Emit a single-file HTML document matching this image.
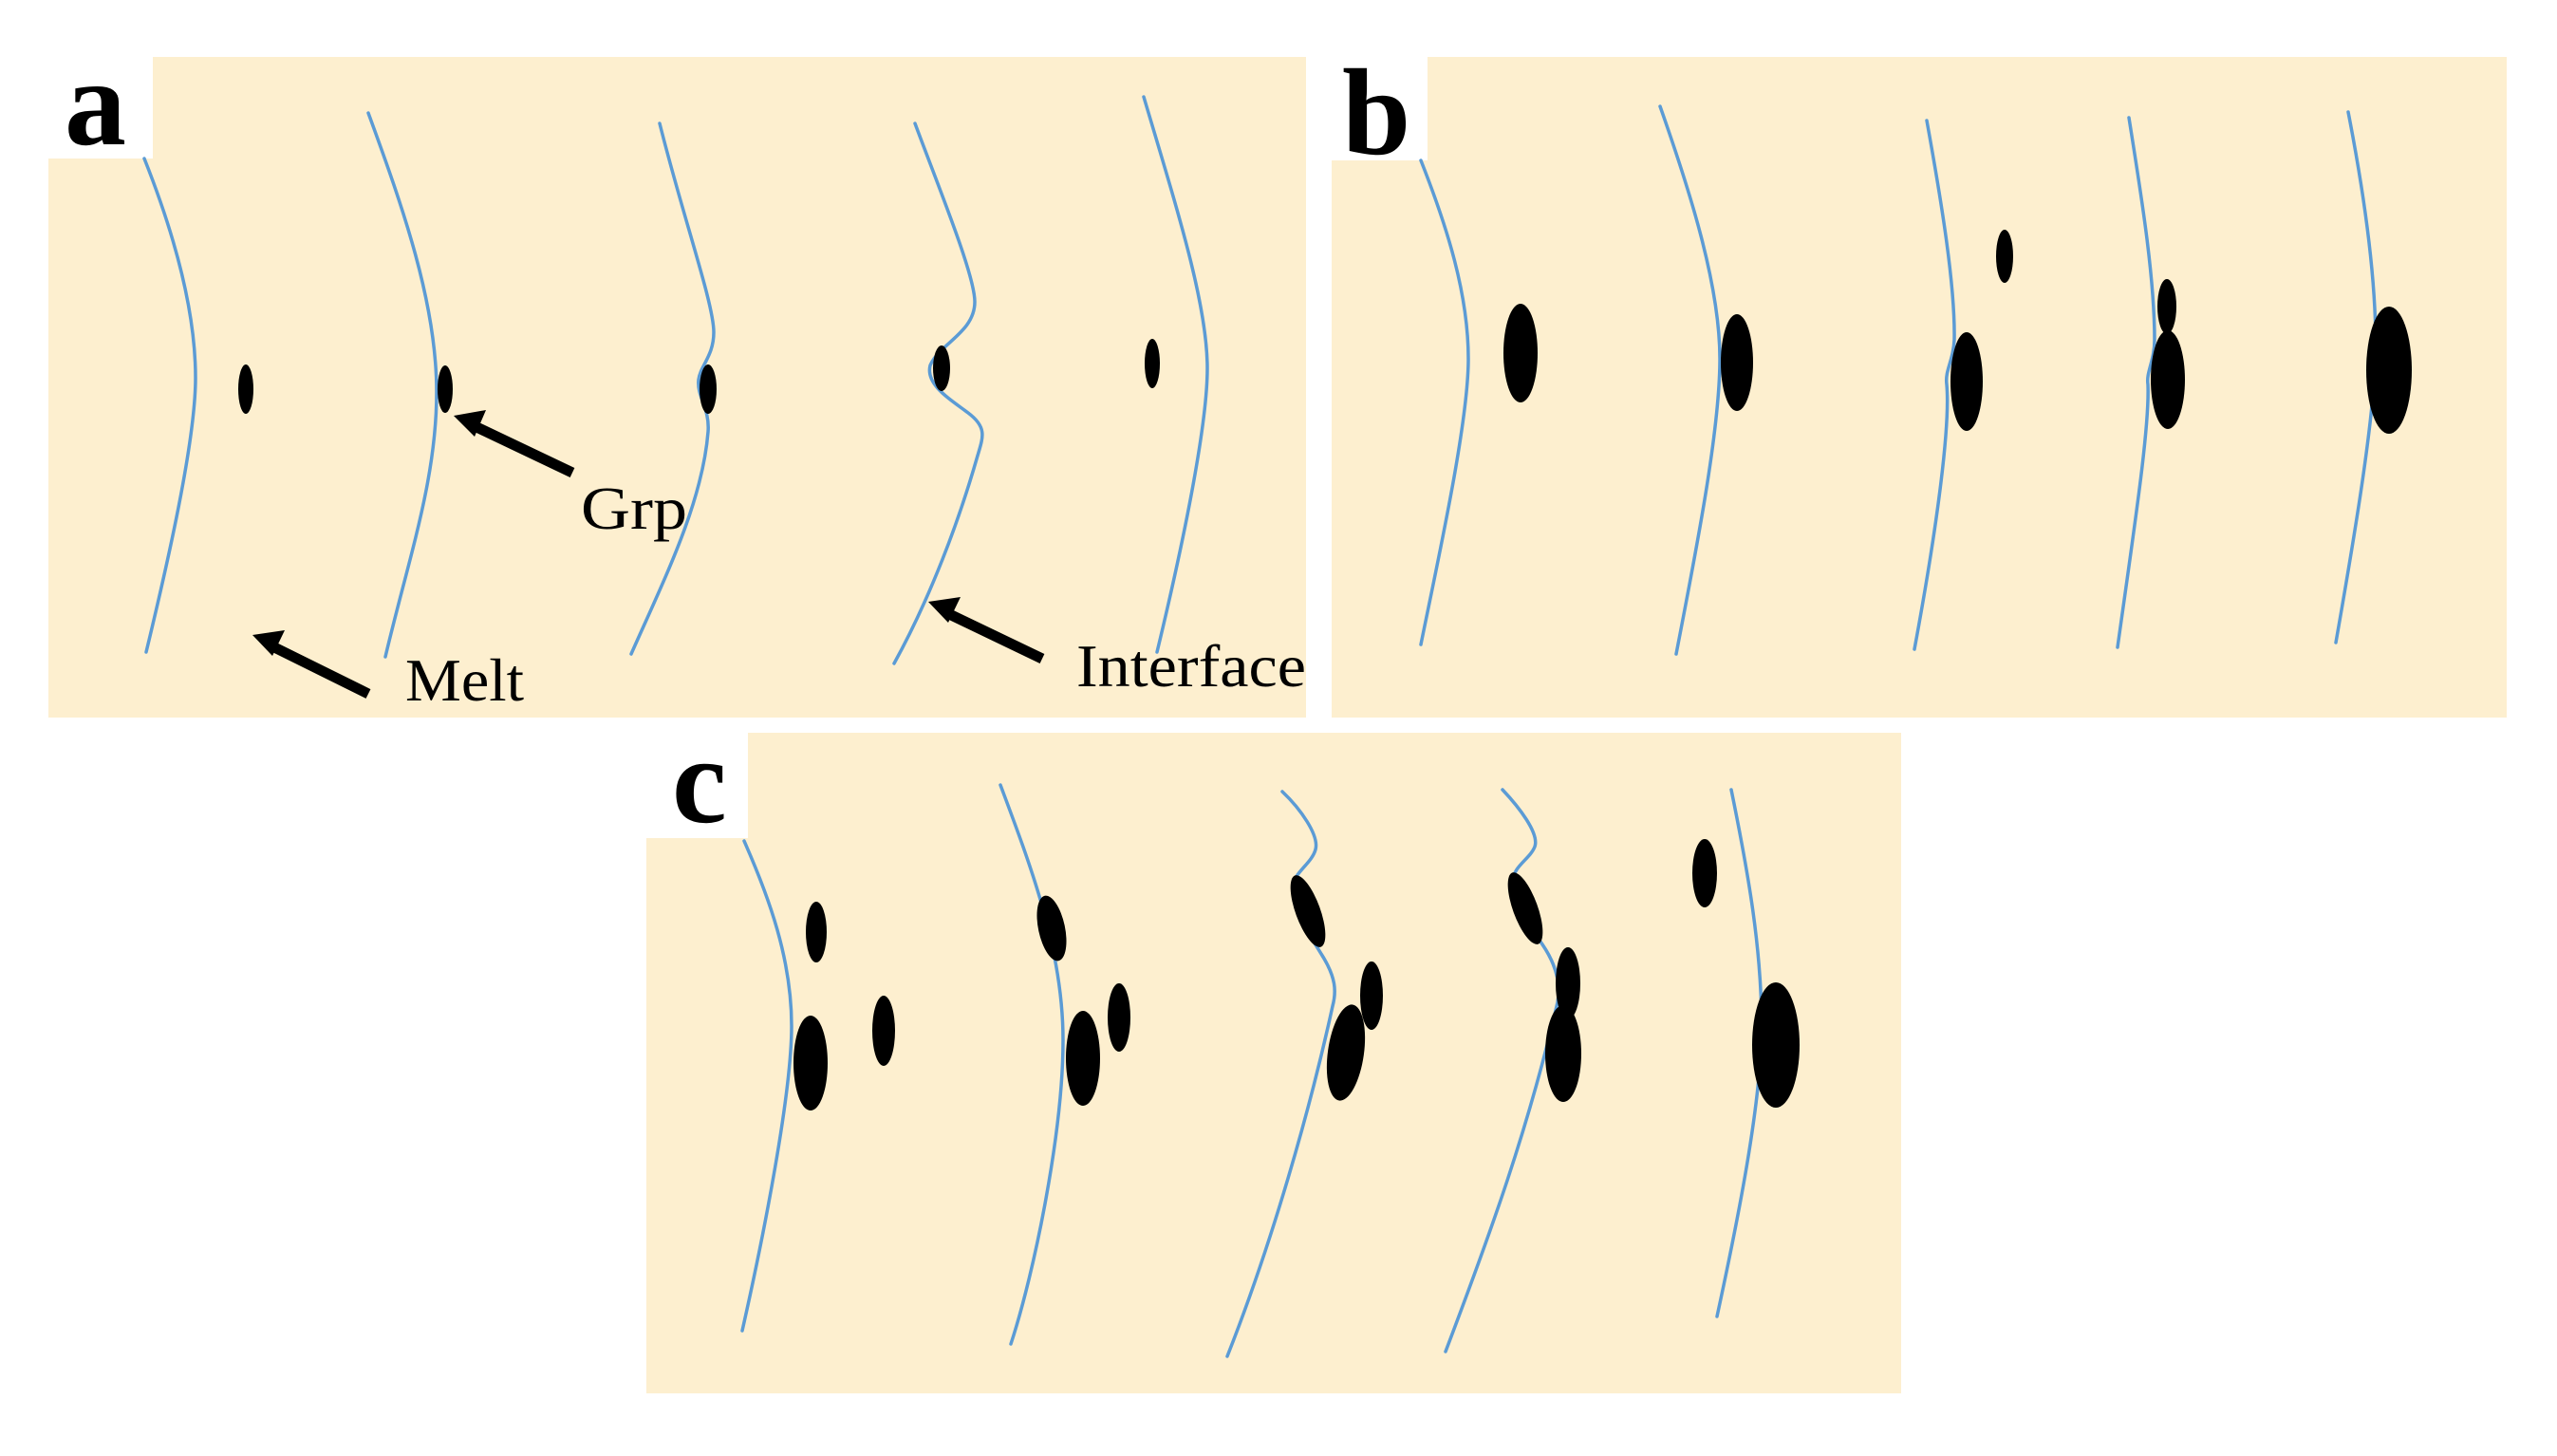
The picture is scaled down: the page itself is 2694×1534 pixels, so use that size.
<!DOCTYPE html>
<html><head><meta charset="utf-8"><style>
html,body{margin:0;padding:0;background:#fff;}
svg{display:block;}
</style></head><body>
<svg width="2694" height="1534" viewBox="0 0 2694 1534" xmlns="http://www.w3.org/2000/svg">
<g fill="#fdefcf">
<rect x="51" y="60" width="1325" height="696"/>
<rect x="1403" y="60" width="1238" height="696"/>
<rect x="681" y="772" width="1322" height="696"/>
</g>
<g fill="#fff">
<rect x="51" y="60" width="110" height="107"/>
<rect x="1403" y="60" width="101" height="109"/>
<rect x="681" y="772" width="107" height="111"/>
</g>
<g font-family="'Liberation Serif',serif" font-weight="bold" fill="#000" font-size="130">
<text x="68" y="152">a</text>
<text x="1414" y="162">b</text>
<text x="708" y="866">c</text>
</g>
<g fill="none" stroke="#5b9bd5" stroke-width="3.5" stroke-linecap="round">
<!-- panel a -->
<path d="M152 167 C185 250 206 330 206 398 S175 600 154 687"/>
<path d="M388 119 C425 220 460 320 460 413 S430 590 406 692"/>
<path d="M695 130 C720 230 752 320 752 350 C752 375 738 385 736 400 C734 418 748 430 746 455 C740 530 700 610 665 689"/>
<path d="M964 130 C990 200 1027 290 1027 318 C1027 350 990 362 980 385 C975 405 1000 420 1020 435 C1040 450 1036 460 1030 480 C1010 550 980 630 942 699"/>
<path d="M1205 102 C1240 220 1272 320 1272 388 S1240 600 1219 687"/>
<!-- panel b -->
<path d="M1497 169 C1525 240 1547 310 1547 378 S1515 590 1497 679"/>
<path d="M1749 112 C1780 200 1812 300 1812 378 S1785 590 1766 689"/>
<path d="M2030 127 C2045 210 2060 300 2059 358 C2058 380 2049 390 2051 405 C2055 450 2040 560 2017 684"/>
<path d="M2243 124 C2255 200 2270 290 2270 358 C2270 380 2261 392 2263 405 C2265 450 2248 560 2231 682"/>
<path d="M2474 118 C2490 200 2503 290 2503 363 S2478 580 2461 677"/>
<!-- panel c -->
<path d="M784 886 C810 945 834 1010 834 1081 S805 1300 782 1402"/>
<path d="M1054 827 C1085 910 1120 1000 1120 1096 S1090 1340 1065 1416"/>
<path d="M1351 834 C1370 852 1390 880 1386 895 C1382 910 1362 920 1362 935 C1362 960 1380 985 1392 1005 C1408 1030 1408 1045 1404 1060 C1380 1170 1340 1310 1293 1429"/>
<path d="M1583 832 C1600 850 1622 878 1617 892 C1612 905 1594 913 1594 928 C1594 955 1612 975 1625 995 C1642 1020 1644 1040 1641 1056 C1610 1190 1570 1300 1523 1424"/>
<path d="M1824 832 C1842 920 1856 1000 1856 1081 S1830 1290 1809 1387"/>
</g>
<g fill="#000">
<ellipse cx="259" cy="410" rx="8" ry="26"/>
<ellipse cx="469" cy="410" rx="8" ry="25"/>
<ellipse cx="746" cy="410" rx="9" ry="26"/>
<ellipse cx="992" cy="388" rx="9" ry="24"/>
<ellipse cx="1214" cy="383" rx="8" ry="26"/>
<ellipse cx="1602" cy="372" rx="18" ry="52"/>
<ellipse cx="1830" cy="382" rx="17" ry="51"/>
<ellipse cx="2072" cy="402" rx="17" ry="52"/>
<ellipse cx="2112" cy="270" rx="9" ry="28"/>
<ellipse cx="2283" cy="323" rx="10" ry="29"/>
<ellipse cx="2284" cy="400" rx="18" ry="52"/>
<ellipse cx="2517" cy="390" rx="24" ry="67"/>
<ellipse cx="860" cy="982" rx="11" ry="32"/>
<ellipse cx="854" cy="1120" rx="18" ry="50"/>
<ellipse cx="931" cy="1086" rx="12" ry="37"/>
<ellipse cx="1108" cy="978" rx="14" ry="35" transform="rotate(-12 1108 978)"/>
<ellipse cx="1141" cy="1115" rx="18" ry="50"/>
<ellipse cx="1179" cy="1072" rx="12" ry="36"/>
<ellipse cx="1378" cy="960" rx="13" ry="40" transform="rotate(-20 1378 960)"/>
<ellipse cx="1445" cy="1049" rx="12" ry="36"/>
<ellipse cx="1418" cy="1109" rx="19" ry="51" transform="rotate(8 1418 1109)"/>
<ellipse cx="1607" cy="957" rx="13" ry="40" transform="rotate(-20 1607 957)"/>
<ellipse cx="1652" cy="1036" rx="13" ry="38"/>
<ellipse cx="1647" cy="1110" rx="19" ry="51"/>
<ellipse cx="1796" cy="920" rx="13" ry="36"/>
<ellipse cx="1871" cy="1101" rx="25" ry="66"/>
</g>
<g stroke="#000" stroke-width="11" fill="none">
<line x1="603" y1="498" x2="498" y2="448"/>
<line x1="388" y1="731" x2="285" y2="680"/>
<line x1="1098" y1="694" x2="996" y2="645"/>
</g>
<g fill="#000">
<polygon points="478,438 512,432 500,460"/>
<polygon points="266,669 300,664 287,691"/>
<polygon points="978,634 1012,629 999,656"/>
</g>
<g font-family="'Liberation Serif',serif" font-size="64" fill="#000">
<text x="612" y="557" textLength="112" lengthAdjust="spacingAndGlyphs">Grp</text>
<text x="427" y="738" textLength="125" lengthAdjust="spacingAndGlyphs">Melt</text>
<text x="1134" y="723" textLength="242" lengthAdjust="spacingAndGlyphs">Interface</text>
</g>
</svg>
</body></html>
